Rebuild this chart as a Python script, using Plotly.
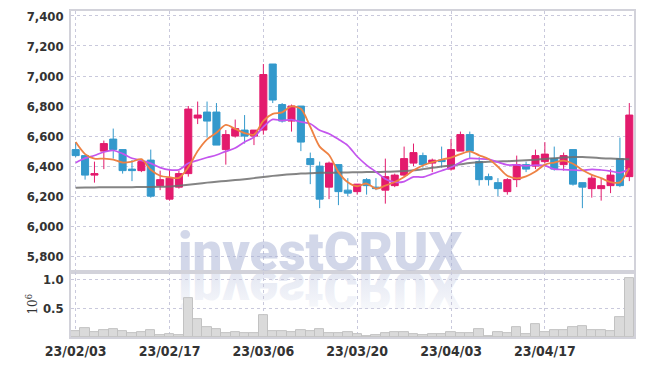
import urllib.parse
import pandas as pd
import plotly.graph_objects as go
from plotly.subplots import make_subplots

# ---- data ----
days = pd.bdate_range("2023-02-03", "2023-04-28")
days = days[days != pd.Timestamp("2023-03-01")]  # market holiday
dates = [d.strftime("%y/%m/%d") for d in days]

tick_labels = ["23/02/03", "23/02/17", "23/03/06", "23/03/20", "23/04/03", "23/04/17"]

opens = [6510, 6470, 6340, 6500, 6580, 6510, 6380, 6370, 6440, 6270,
         6180, 6260, 6350, 6720, 6760, 6760, 6510, 6600, 6640, 6600,
         6640, 7080, 6810, 6700, 6800, 6450, 6400, 6260, 6410, 6240,
         6230, 6310, 6260, 6240, 6270, 6340, 6420, 6470, 6420, 6440,
         6380, 6500, 6610, 6430, 6330, 6290, 6230, 6310, 6410, 6400,
         6430, 6450, 6410, 6510, 6290, 6250, 6250, 6270, 6450, 6330]
highs = [6560, 6470, 6430, 6570, 6650, 6510, 6440, 6440, 6510, 6370,
         6380, 6370, 6800, 6830, 6830, 6820, 6640, 6710, 6740, 6640,
         7080, 7080, 6820, 6810, 6800, 6490, 6430, 6430, 6410, 6320,
         6280, 6320, 6320, 6450, 6350, 6530, 6550, 6490, 6450, 6530,
         6580, 6630, 6630, 6460, 6350, 6320, 6320, 6470, 6430, 6510,
         6560, 6530, 6490, 6510, 6290, 6340, 6320, 6380, 6590, 6820]
lows = [6460, 6310, 6290, 6380, 6450, 6350, 6300, 6360, 6190, 6240,
        6170, 6250, 6330, 6680, 6590, 6540, 6410, 6590, 6550, 6540,
        6610, 6820, 6690, 6630, 6500, 6280, 6120, 6180, 6140, 6200,
        6210, 6210, 6240, 6150, 6260, 6330, 6400, 6390, 6360, 6390,
        6370, 6500, 6450, 6270, 6270, 6200, 6210, 6260, 6360, 6380,
        6420, 6370, 6370, 6270, 6120, 6190, 6170, 6220, 6260, 6300]
closes = [6470, 6340, 6350, 6550, 6510, 6370, 6370, 6430, 6200, 6310,
          6320, 6350, 6780, 6740, 6700, 6540, 6610, 6650, 6600, 6640,
          7010, 6840, 6700, 6800, 6560, 6410, 6180, 6420, 6230, 6220,
          6280, 6270, 6250, 6330, 6340, 6450, 6490, 6410, 6440, 6430,
          6510, 6610, 6500, 6310, 6310, 6250, 6310, 6410, 6380, 6470,
          6480, 6380, 6470, 6280, 6260, 6320, 6270, 6340, 6270, 6740]

ma5 = [6560, 6480, 6450, 6450, 6444, 6424, 6430, 6446, 6376, 6336,
       6326, 6322, 6392, 6500, 6578, 6622, 6674, 6648, 6620, 6610,
       6702, 6748, 6758, 6798, 6782, 6662, 6530, 6474, 6360, 6292,
       6266, 6284, 6250, 6270, 6294, 6328, 6372, 6404, 6426, 6444,
       6456, 6480, 6498, 6472, 6448, 6396, 6336, 6318, 6332, 6364,
       6410, 6424, 6436, 6416, 6374, 6342, 6320, 6294, 6292, 6388]
ma10 = [6423, 6453, 6471, 6494, 6504, 6483, 6452, 6438, 6418, 6390,
        6375, 6376, 6419, 6438, 6457, 6474, 6498, 6520, 6560, 6593,
        6662, 6711, 6703, 6709, 6695, 6682, 6639, 6616, 6579, 6537,
        6464, 6407, 6362, 6315, 6293, 6297, 6328, 6327, 6348, 6369,
        6392, 6426, 6451, 6449, 6446, 6426, 6408, 6408, 6402, 6406,
        6403, 6380, 6377, 6374, 6371, 6378, 6374, 6367, 6356, 6383]
ma60 = [6256, 6257, 6258, 6259, 6260, 6260, 6260, 6261, 6261, 6262,
        6265, 6270, 6276, 6283, 6290, 6296, 6301, 6307, 6313, 6320,
        6328, 6335, 6341, 6346, 6350, 6353, 6355, 6356, 6357, 6358,
        6359, 6360, 6361, 6362, 6364, 6367, 6372, 6380, 6389, 6397,
        6404, 6412, 6420, 6426, 6429, 6431, 6433, 6436, 6439, 6443,
        6448, 6453, 6458, 6461, 6460, 6457, 6453, 6450, 6448, 6446]

# volume in millions of shares
volume_m = [0.10, 0.16, 0.086, 0.125, 0.14, 0.108, 0.069, 0.09, 0.125, 0.04,
            0.057, 0.04, 0.674, 0.314, 0.177, 0.14, 0.074, 0.09, 0.069, 0.069,
            0.377, 0.108, 0.108, 0.09, 0.125, 0.108, 0.14, 0.069, 0.069, 0.086,
            0.057, 0.022, 0.04, 0.074, 0.09, 0.09, 0.057, 0.04, 0.057, 0.057,
            0.09, 0.074, 0.074, 0.137, 0.022, 0.086, 0.069, 0.171, 0.057, 0.223,
            0.09, 0.12, 0.125, 0.171, 0.189, 0.125, 0.125, 0.108, 0.343, 1.01]

price_ticks = [5800, 6000, 6200, 6400, 6600, 6800, 7000, 7200, 7400]
vol_ticks = [0.5, 1.0]
vol_tick_text = ["0.5", "1.0"]

# ---- styles ----
UP = "#E31B6D"
DOWN = "#3399CC"
GRID = "#C9C9DC"
AXLINE = "#D2D2DA"
TICKFONT = dict(family="Liberation Sans Narrow, DejaVu Sans Condensed, Roboto", size=13,
                color="#333333", weight="bold")
TICKFONT_X = dict(family="Liberation Sans Narrow, DejaVu Sans Condensed, Roboto", size=14,
                  color="#333333", weight="bold")

fig = make_subplots(rows=2, cols=1, shared_xaxes=True, vertical_spacing=0,
                    row_heights=[0.801, 0.199])

fig.add_trace(go.Candlestick(
    x=dates, open=opens, high=highs, low=lows, close=closes,
    increasing=dict(line=dict(color=UP, width=1), fillcolor=UP),
    decreasing=dict(line=dict(color=DOWN, width=1), fillcolor=DOWN),
    whiskerwidth=0, showlegend=False, hoverinfo="skip"), row=1, col=1)

for vals, col, w in [(ma60, "rgba(110,110,110,0.85)", 2.0),
                     (ma10, "#C455EE", 1.7),
                     (ma5, "#EE8244", 1.8)]:
    fig.add_trace(go.Scatter(x=dates, y=vals, mode="lines",
                             line=dict(color=col, width=w, shape="spline", smoothing=0.8),
                             showlegend=False, hoverinfo="skip"), row=1, col=1)

fig.add_trace(go.Bar(x=dates, y=volume_m,
                     marker=dict(color="#DADADA", line=dict(color="#C2C2C2", width=1)),
                     showlegend=False, hoverinfo="skip"), row=2, col=1)

xcommon = dict(type="category", range=[-0.5, len(dates) - 0.5],
               tickmode="array", tickvals=tick_labels, ticktext=tick_labels,
               showgrid=True, gridcolor=GRID, griddash="dot", gridwidth=1,
               showline=True, mirror=True, linecolor=AXLINE, linewidth=1.5,
               zeroline=False, ticks="")
fig.update_xaxes(**xcommon)
fig.update_xaxes(showticklabels=False, rangeslider=dict(visible=False), row=1, col=1)
fig.update_xaxes(showticklabels=True, tickfont=TICKFONT_X, row=2, col=1)

fig.update_yaxes(range=[5694, 7433], tickmode="array", tickvals=price_ticks,
                 tickformat=",d", tickfont=TICKFONT,
                 showgrid=True, gridcolor=GRID, griddash="dot",
                 showline=True, mirror=True, linecolor=AXLINE, linewidth=1.5,
                 zeroline=False, ticks="outside", ticklen=3, tickcolor="rgba(0,0,0,0)",
                 row=1, col=1)
fig.update_yaxes(range=[0, 1.12], tickmode="array", tickvals=vol_ticks, ticktext=vol_tick_text,
                 tickfont=TICKFONT,
                 showgrid=True, gridcolor=GRID, griddash="dot",
                 showline=True, mirror=True, linecolor=AXLINE, linewidth=1.5,
                 zeroline=False, ticks="outside", ticklen=3, tickcolor="rgba(0,0,0,0)",
                 row=2, col=1)

# watermark + reflection
W_COLOR = "rgba(165,176,212,0.5)"
fig.add_annotation(text="investCRUX", xref="paper", yref="paper",
                   x=0.4416, y=0.262, xanchor="center", yanchor="middle",
                   showarrow=False,
                   font=dict(family="Roboto, sans-serif", size=53,
                             color=W_COLOR, weight=900))

svg = ("<svg xmlns='http://www.w3.org/2000/svg' width='300' height='60'>"
       "<defs><linearGradient id='g' x1='0' y1='0' x2='0' y2='1'>"
       "<stop offset='0' stop-color='#c6cde4' stop-opacity='0.05'/>"
       "<stop offset='1' stop-color='#c6cde4' stop-opacity='0.6'/>"
       "</linearGradient></defs>"
       "<text x='150' y='0' transform='scale(1,-1)' text-anchor='middle' "
       "font-family='Roboto' font-weight='900' font-size='53' fill='url(#g)'>investCRUX</text></svg>")
src = "data:image/svg+xml;charset=utf-8," + urllib.parse.quote(svg)
fig.add_layout_image(source=src, xref="paper", yref="paper",
                     x=(320.5 - 150 - 71) / 565, y=(339.3 - 274) / 328.3,
                     sizex=300 / 565, sizey=60 / 328.3, sizing="stretch",
                     xanchor="left", yanchor="top", layer="below")

fig.add_annotation(text="10<sup>6</sup>", xref="paper", yref="paper",
                   x=-0.069, y=0.10, textangle=-90, showarrow=False,
                   xanchor="center", yanchor="middle",
                   font=dict(family="DejaVu Serif", size=12, color="#333333"))

fig.update_layout(width=645, height=368,
                  margin=dict(l=71, r=9, t=11, b=29),
                  paper_bgcolor="white", plot_bgcolor="rgba(0,0,0,0)",
                  bargap=0.0, boxgap=0.25, boxgroupgap=0.0, showlegend=False)

fig.write_html("out.html")
